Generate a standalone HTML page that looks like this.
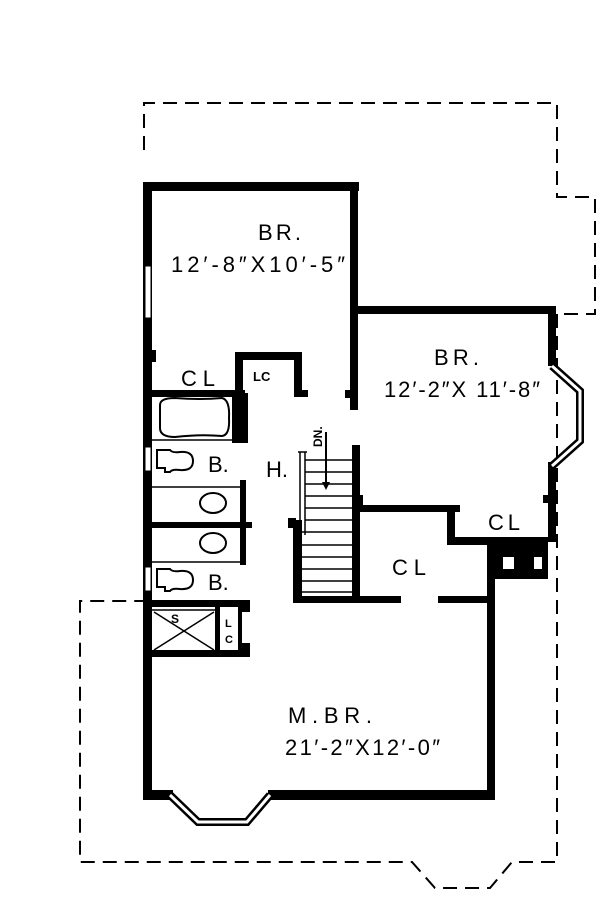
<!DOCTYPE html>
<html><head><meta charset="utf-8"><style>
html,body{margin:0;padding:0;background:#fff;}
svg{display:block;}
text{font-family:"Liberation Sans",sans-serif;fill:#000;}
</style></head><body>
<svg width="600" height="919" viewBox="0 0 600 919" xmlns="http://www.w3.org/2000/svg">
<g fill="none" stroke="#000" stroke-width="2" stroke-dasharray="14,8">
<polyline points="144,150 144,103 557,103 557,197 595,197 595,314 557,314"/>
<polyline points="557,314 557,862 512,862 490,888 435,888 412,862 80,862 80,601 148,601"/>
</g>
<g fill="#000">
<rect x="143" y="182" width="9" height="618"/>
<rect x="143" y="182" width="216" height="9"/>
<rect x="350" y="182" width="8" height="228"/>
<rect x="345" y="390" width="6" height="8"/>
<rect x="350" y="306" width="206" height="8"/>
<rect x="548" y="306" width="8" height="60"/>
<rect x="548" y="462" width="8" height="80"/>
<rect x="543" y="495" width="6" height="8"/>
<rect x="352" y="505" width="108" height="7"/>
<rect x="447" y="505" width="8" height="40"/>
<rect x="447" y="537" width="101" height="8"/>
<rect x="487" y="537" width="61" height="42"/>
<rect x="487" y="540" width="8" height="260"/>
<rect x="352" y="445" width="8" height="158"/>
<rect x="358" y="495" width="5" height="10"/>
<rect x="293" y="520" width="9" height="83"/>
<rect x="288" y="518" width="8" height="10"/>
<rect x="293" y="596" width="108" height="7"/>
<rect x="438" y="596" width="52" height="7"/>
<rect x="235" y="352" width="67" height="8"/>
<rect x="235" y="352" width="8" height="45"/>
<rect x="294" y="352" width="8" height="45"/>
<rect x="294" y="390" width="14" height="7"/>
<rect x="148" y="390" width="97" height="7"/>
<rect x="148" y="350" width="8" height="12"/>
<rect x="232" y="393" width="16" height="50"/>
<rect x="240" y="480" width="6" height="42"/>
<rect x="148" y="522" width="104" height="6"/>
<rect x="240" y="527" width="6" height="38"/>
<rect x="148" y="600" width="102" height="7"/>
<rect x="240" y="600" width="10" height="12"/>
<rect x="240" y="643" width="10" height="12"/>
<rect x="215" y="607" width="5" height="45"/>
<rect x="238" y="607" width="4" height="45"/>
<rect x="148" y="650" width="102" height="7"/>
<rect x="143" y="790" width="30" height="10"/>
<rect x="268" y="790" width="227" height="10"/>
</g>
<rect x="503" y="557" width="11" height="12" fill="#fff"/>
<rect x="534" y="557" width="8" height="12" fill="#fff"/>
<rect x="145" y="266" width="6" height="52" fill="#fff" stroke="#000" stroke-width="1"/>
<rect x="145" y="447" width="6" height="24" fill="#fff" stroke="#000" stroke-width="1"/>
<rect x="145" y="567" width="6" height="24" fill="#fff" stroke="#000" stroke-width="1"/>
<g fill="none" stroke="#000">
<polyline points="552,366 580,391 580,441 552,466" stroke-width="8"/>
<polyline points="552,366 580,391 580,441 552,466" stroke="#fff" stroke-width="3"/>
<polyline points="170,795 198,822 247,822 270,795" stroke-width="8"/>
<polyline points="170,795 198,822 247,822 270,795" stroke="#fff" stroke-width="3"/>
</g>
<g fill="none" stroke="#000" stroke-width="1.5">
<line x1="152" y1="440" x2="232" y2="440"/>
<path d="M160,405 Q160,398 175,398 Q200,400 222,398 Q230,400 229,418 Q230,435 222,436 Q200,434 175,437 Q160,437 160,428 Z" stroke-width="2"/>
<line x1="152" y1="487" x2="240" y2="487"/>
<line x1="152" y1="562" x2="240" y2="562"/>
<ellipse cx="213" cy="503" rx="13" ry="10" stroke-width="2"/>
<ellipse cx="213" cy="543" rx="13" ry="10" stroke-width="2"/>
<path d="M157,450 L170,450 Q172,453 180,452 Q193,451 193,461 Q193,471 180,470 Q172,469 170,472 L165,472 L165,468 L157,468 Z" stroke-width="2"/>
<path d="M157,569 L170,569 Q172,572 180,571 Q193,570 193,580 Q193,590 180,589 Q172,588 170,591 L165,591 L165,587 L157,587 Z" stroke-width="2"/>
<line x1="152" y1="610" x2="215" y2="610"/>
<line x1="154" y1="612" x2="214" y2="650"/>
<line x1="214" y1="612" x2="154" y2="650"/>
<line x1="300" y1="452" x2="300" y2="535"/>
<line x1="305" y1="452" x2="305" y2="535"/>
<line x1="298" y1="452" x2="307" y2="452"/>
</g>
<g stroke="#000" stroke-width="1.5">
<line x1="305" y1="460" x2="352" y2="460"/>
<line x1="305" y1="472" x2="352" y2="472"/>
<line x1="305" y1="484" x2="352" y2="484"/>
<line x1="305" y1="496" x2="352" y2="496"/>
<line x1="305" y1="508" x2="352" y2="508"/>
<line x1="305" y1="520" x2="352" y2="520"/>
<line x1="302" y1="532" x2="352" y2="532"/>
<line x1="302" y1="545" x2="352" y2="545"/>
<line x1="302" y1="557" x2="352" y2="557"/>
<line x1="302" y1="569" x2="352" y2="569"/>
<line x1="302" y1="581" x2="352" y2="581"/>
<line x1="302" y1="592" x2="352" y2="592"/>
<line x1="326" y1="432" x2="326" y2="488" stroke-width="2"/>
</g>
<polygon points="322,482 330,482 326,490" fill="#000"/>
<text x="258" y="240" font-size="22" textLength="43" lengthAdjust="spacing">BR.</text>
<text x="171" y="272" font-size="22" textLength="174" lengthAdjust="spacing">12′-8″X10′-5″</text>
<text x="434" y="365" font-size="22" textLength="45" lengthAdjust="spacing">BR.</text>
<text x="384" y="397" font-size="22" textLength="156" lengthAdjust="spacing">12′-2″X 11′-8″</text>
<text x="181" y="386" font-size="22" textLength="34" lengthAdjust="spacing">CL</text>
<text x="253" y="381" font-size="13" font-weight="bold">LC</text>
<text x="208" y="472" font-size="22">B.</text>
<text x="208" y="590" font-size="22">B.</text>
<text x="266" y="477" font-size="22">H.</text>
<text x="488" y="530" font-size="22" textLength="32" lengthAdjust="spacing">CL</text>
<text x="392" y="575" font-size="22" textLength="34" lengthAdjust="spacing">CL</text>
<text x="171" y="623" font-size="12" font-weight="bold">S</text>
<text x="225" y="627" font-size="11" font-weight="bold">L</text>
<text x="225" y="643" font-size="11" font-weight="bold">C</text>
<text transform="translate(322,447) rotate(-90)" font-size="12" font-weight="bold">DN.</text>
<text x="288" y="723" font-size="22" textLength="84" lengthAdjust="spacing">M.BR.</text>
<text x="285" y="755" font-size="22" textLength="155" lengthAdjust="spacing">21′-2″X12′-0″</text>
</svg>
</body></html>
